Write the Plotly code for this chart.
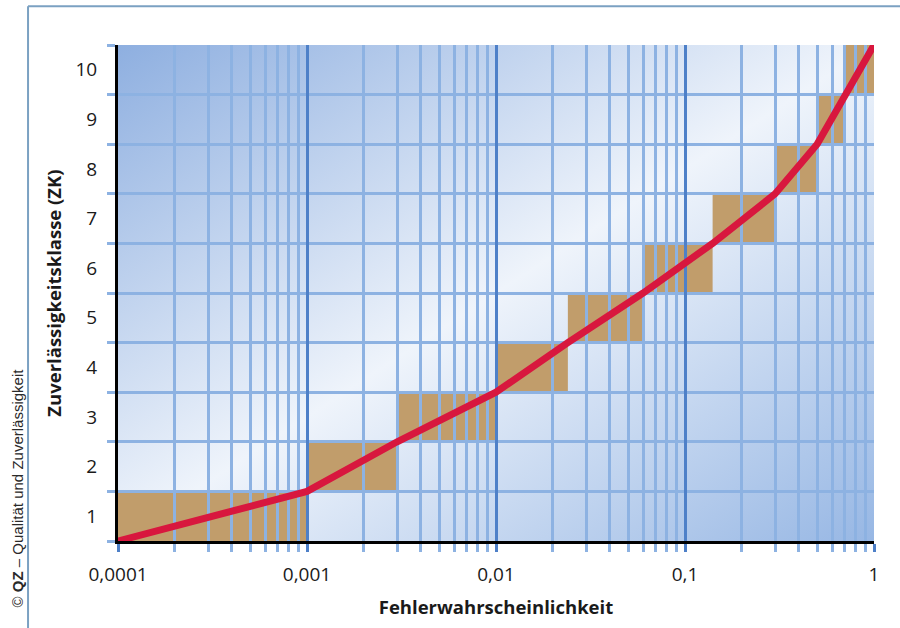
import base64
import plotly.graph_objects as go

# ---- data ----
classes = [1, 2, 3, 4, 5, 6, 7, 8, 9, 10]
class_low_p = [0.0001, 0.001, 0.003, 0.01, 0.024, 0.06, 0.14, 0.3, 0.5, 0.7]
class_high_p = [0.001, 0.003, 0.01, 0.024, 0.06, 0.14, 0.3, 0.5, 0.7, 1.0]
curve_p = [0.0001, 0.001, 0.003, 0.01, 0.024, 0.06, 0.14, 0.3, 0.5, 0.7, 1.0]
curve_zk = [0.5, 1.5, 2.5, 3.5, 4.5, 5.5, 6.5, 7.5, 8.5, 9.5, 10.5]
x_tickvals = [0.0001, 0.001, 0.01, 0.1, 1]
x_ticktext = ["0,0001", "0,001", "0,01", "0,1", "1"]
x_minor = [m * d for d in [0.0001, 0.001, 0.01, 0.1] for m in range(2, 10)]
y_tickvals = classes
y_bounds = [c - 0.5 for c in classes] + [10.5]

# ---- styles ----
FONT = "Open Sans"
MAJOR = "#4e80c8"
MINOR = "#8db2e2"
TAN = "#c19d6b"
RED = "#d8173e"

svg = (
    '<svg xmlns="http://www.w3.org/2000/svg" width="756" height="501" '
    'viewBox="0 0 756 501" preserveAspectRatio="none">'
    '<defs><linearGradient id="g" x1="0" y1="0" x2="1" y2="1">'
    '<stop offset="0" stop-color="#8eafe0"/>'
    '<stop offset="0.5" stop-color="#eff4fb"/>'
    '<stop offset="1" stop-color="#97b7e4"/>'
    '</linearGradient></defs>'
    '<rect width="756" height="501" fill="url(#g)"/></svg>'
)
svg_uri = "data:image/svg+xml;base64," + base64.b64encode(svg.encode()).decode()

fig = go.Figure()

fig.add_trace(go.Scatter(
    x=curve_p, y=curve_zk, mode="lines",
    line=dict(color=RED, width=7),
    hoverinfo="skip", showlegend=False,
))

shapes = []
for lo, hi, c in zip(class_low_p, class_high_p, classes):
    shapes.append(dict(
        type="rect", xref="x", yref="y", x0=lo, x1=hi, y0=c - 0.5, y1=c + 0.5,
        fillcolor=TAN, line=dict(width=0), layer="below",
    ))
# outer frame (left and top edges)
shapes.append(dict(type="line", xref="paper", yref="paper",
                   x0=-0.119, x1=-0.119, y0=1.078, y1=-0.2,
                   line=dict(color="#7ba1c2", width=2), layer="above"))
shapes.append(dict(type="line", xref="paper", yref="paper",
                   x0=-0.119, x1=1.06, y0=1.078, y1=1.078,
                   line=dict(color="#7ba1c2", width=2), layer="above"))

fig.update_layout(
    width=900, height=628,
    margin=dict(l=118, r=26, t=45, b=82),
    paper_bgcolor="white",
    plot_bgcolor="rgba(0,0,0,0)",
    font=dict(family=FONT, size=19, color="#1a1a1a"),
    shapes=shapes,
    images=[dict(source=svg_uri, xref="paper", yref="paper", x=0, y=1,
                 sizex=1, sizey=1, sizing="stretch", layer="below",
                 xanchor="left", yanchor="top")],
    annotations=[dict(
        text="© <b>QZ</b> – Qualität und Zuverlässigkeit",
        xref="paper", yref="paper", x=-0.1336, y=0.108, textangle=-90,
        xanchor="center", yanchor="middle",
        showarrow=False, font=dict(family="Liberation Sans", size=15, color="#2a2a2a"),
    )],
    showlegend=False,
)

fig.update_xaxes(
    type="log", range=[-4, 0],
    tickmode="array", tickvals=x_tickvals, ticktext=x_ticktext,
    showgrid=True, gridcolor=MAJOR, gridwidth=2.5,
    ticks="outside", ticklen=8, tickwidth=2.5, tickcolor=MAJOR,
    ticklabelstandoff=6,
    showline=True, linecolor="black", linewidth=3,
    zeroline=False,
    minor=dict(tickmode="array", tickvals=x_minor, showgrid=True,
               gridcolor=MINOR, gridwidth=2.5, ticks="outside",
               ticklen=8, tickwidth=2.5, tickcolor=MINOR),
    title=dict(text="Fehlerwahrscheinlichkeit",
               font=dict(family=FONT, size=18.5, weight="bold", color="#1a1a1a"),
               standoff=16),
    tickfont=dict(family=FONT, size=19),
)

fig.update_yaxes(
    range=[0.5, 10.5],
    tickmode="array", tickvals=y_tickvals, ticktext=[str(c) for c in classes],
    showgrid=False,
    ticks="outside", ticklen=14, tickcolor="rgba(0,0,0,0)",
    showline=True, linecolor="black", linewidth=3,
    zeroline=False,
    minor=dict(tickmode="array", tickvals=y_bounds, showgrid=True,
               gridcolor=MINOR, gridwidth=2.5, ticks="outside",
               ticklen=8, tickwidth=2.5, tickcolor=MINOR),
    title=dict(text="Zuverlässigkeitsklasse (ZK)",
               font=dict(family=FONT, size=18.5, weight="bold", color="#1a1a1a"),
               standoff=9),
    tickfont=dict(family=FONT, size=19),
)

fig.write_html("out.html", config={"displayModeBar": False},
               post_script="document.body.style.margin='0';document.body.style.overflow='hidden';")
